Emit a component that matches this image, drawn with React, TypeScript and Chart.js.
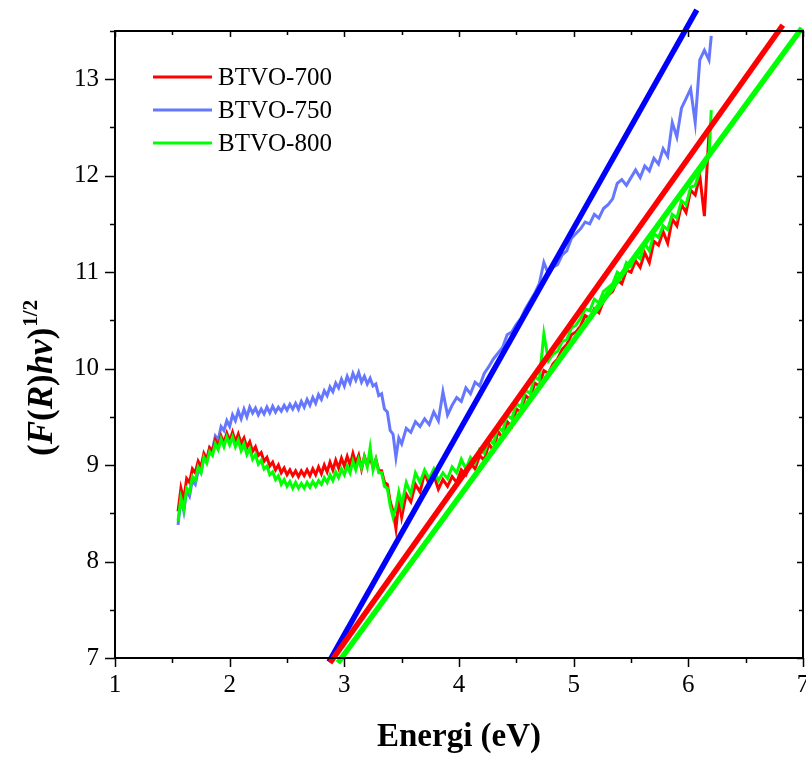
import React, { useEffect, useRef } from 'react';
import { Chart, registerables } from 'chart.js';
Chart.register(...registerables);

const FONT = "'Liberation Serif', 'Times New Roman', serif";

// Photon energy (eV)
const energy = [
  1.55, 1.575, 1.6, 1.625, 1.65, 1.675, 1.7, 1.725, 1.75, 1.775,
  1.8, 1.825, 1.85, 1.875, 1.9, 1.925, 1.95, 1.975, 2.0, 2.025,
  2.05, 2.075, 2.1, 2.125, 2.15, 2.175, 2.2, 2.225, 2.25, 2.275,
  2.3, 2.325, 2.35, 2.375, 2.4, 2.425, 2.45, 2.475, 2.5, 2.525,
  2.55, 2.575, 2.6, 2.625, 2.65, 2.675, 2.7, 2.725, 2.75, 2.775,
  2.8, 2.825, 2.85, 2.875, 2.9, 2.925, 2.95, 2.975, 3.0, 3.025,
  3.05, 3.075, 3.1, 3.125, 3.15, 3.175, 3.2, 3.225, 3.25, 3.275,
  3.3, 3.325, 3.35, 3.375, 3.4, 3.425, 3.45, 3.475, 3.5,
  3.54, 3.58, 3.62, 3.66, 3.7, 3.74, 3.78, 3.82, 3.86, 3.9,
  3.94, 3.98, 4.02, 4.06, 4.1, 4.14, 4.18, 4.22, 4.26, 4.3,
  4.34, 4.38, 4.42, 4.46, 4.5, 4.54, 4.58, 4.62, 4.66, 4.7,
  4.74, 4.78, 4.82, 4.86, 4.9, 4.94, 4.98, 5.02, 5.06, 5.1,
  5.14, 5.18, 5.22, 5.26, 5.3, 5.34, 5.38, 5.42, 5.46, 5.5,
  5.54, 5.58, 5.62, 5.66, 5.7, 5.74, 5.78, 5.82, 5.86, 5.9,
  5.94, 5.98, 6.02, 6.06, 6.1, 6.14, 6.18, 6.2,
];

const btvo700 = [
  8.52, 8.76, 8.64, 8.86, 8.82, 8.96, 8.92, 9.04, 8.98, 9.12,
  9.06, 9.18, 9.14, 9.26, 9.20, 9.30, 9.23, 9.33, 9.25, 9.34,
  9.24, 9.32, 9.22, 9.28, 9.18, 9.24, 9.14, 9.19, 9.10, 9.13,
  9.04, 9.08, 8.99, 9.03, 8.95, 9.00, 8.92, 8.97, 8.90, 8.95,
  8.89, 8.94, 8.88, 8.94, 8.89, 8.95, 8.89, 8.96, 8.90, 8.98,
  8.91, 9.00, 8.93, 9.03, 8.95, 9.05, 8.97, 9.07, 8.99, 9.09,
  9.00, 9.12, 9.02, 9.10, 8.96, 9.09, 9.00, 9.08, 8.98, 9.06,
  8.94, 8.94, 8.82, 8.80, 8.62, 8.52, 8.34, 8.64, 8.46,
  8.70, 8.62, 8.80, 8.72, 8.92, 8.80, 8.90, 8.75, 8.85, 8.78,
  8.88, 8.82, 8.95, 8.90, 9.02, 8.96, 9.10, 9.05, 9.22, 9.15,
  9.35, 9.28, 9.45, 9.40, 9.58, 9.55, 9.72, 9.68, 9.85, 9.82,
  9.98, 9.95, 10.05, 10.10, 10.20, 10.25, 10.35, 10.38, 10.44, 10.55,
  10.52, 10.62, 10.58, 10.70, 10.76, 10.80, 10.92, 10.88, 11.02, 11.00,
  11.12, 11.05, 11.20, 11.10, 11.32, 11.28, 11.42, 11.30, 11.55, 11.48,
  11.70, 11.62, 11.85, 11.80, 12.00, 11.58, 12.45, 12.55,
];

const btvo750 = [
  8.38, 8.66, 8.52, 8.74, 8.68, 8.84, 8.80, 8.94, 8.92, 9.08,
  9.04, 9.18, 9.16, 9.30, 9.26, 9.40, 9.36, 9.46, 9.40, 9.52,
  9.46, 9.56, 9.48, 9.58, 9.50, 9.60, 9.54, 9.59, 9.52, 9.58,
  9.53, 9.60, 9.54, 9.61, 9.55, 9.60, 9.56, 9.62, 9.57, 9.63,
  9.58, 9.64, 9.58, 9.66, 9.60, 9.68, 9.62, 9.70, 9.64, 9.73,
  9.68, 9.77, 9.72, 9.81, 9.76, 9.85, 9.80, 9.89, 9.82, 9.92,
  9.85, 9.95, 9.88, 9.96, 9.86, 9.92, 9.84, 9.90, 9.82, 9.84,
  9.72, 9.74, 9.58, 9.55, 9.36, 9.32, 9.08, 9.28, 9.22,
  9.38, 9.34, 9.45, 9.40, 9.48, 9.42, 9.55, 9.46, 9.76, 9.52,
  9.62, 9.70, 9.66, 9.80, 9.74, 9.86, 9.82, 9.95, 10.02, 10.10,
  10.16, 10.22, 10.35, 10.38, 10.46, 10.52, 10.62, 10.70, 10.78, 10.88,
  11.10, 10.98, 11.05, 11.08, 11.18, 11.22, 11.35, 11.40, 11.45, 11.52,
  11.50, 11.60, 11.56, 11.66, 11.70, 11.76, 11.92, 11.96, 11.90, 11.98,
  12.06, 11.98, 12.10, 12.05, 12.18, 12.12, 12.28, 12.20, 12.55, 12.40,
  12.70, 12.80, 12.90, 12.55, 13.20, 13.30, 13.20, 13.45,
];

const btvo800 = [
  8.42, 8.66, 8.54, 8.76, 8.72, 8.88, 8.84, 8.98, 8.92, 9.08,
  9.02, 9.14, 9.10, 9.22, 9.16, 9.27, 9.19, 9.29, 9.21, 9.29,
  9.19, 9.26, 9.15, 9.22, 9.11, 9.17, 9.06, 9.11, 9.01, 9.05,
  8.96, 8.99, 8.90, 8.93, 8.85, 8.89, 8.80, 8.85, 8.78, 8.83,
  8.76, 8.82, 8.76, 8.81, 8.76, 8.82, 8.77, 8.83, 8.78, 8.84,
  8.80, 8.87, 8.82, 8.90, 8.84, 8.93, 8.87, 8.96, 8.90, 8.99,
  8.92, 9.04, 8.95, 9.06, 8.97, 9.08, 8.98, 9.18, 8.95, 9.06,
  8.92, 8.92, 8.78, 8.76, 8.58, 8.46, 8.56, 8.72, 8.58,
  8.82, 8.70, 8.92, 8.82, 8.95, 8.86, 8.96, 8.84, 8.92, 8.86,
  8.98, 8.92, 9.06, 8.96, 9.08, 9.02, 9.16, 9.12, 9.28, 9.22,
  9.40, 9.35, 9.52, 9.48, 9.64, 9.60, 9.78, 9.74, 9.92, 9.88,
  10.36, 10.08, 10.15, 10.18, 10.28, 10.30, 10.42, 10.45, 10.52, 10.62,
  10.60, 10.72, 10.68, 10.80, 10.84, 10.88, 11.00, 10.96, 11.10, 11.06,
  11.18, 11.14, 11.30, 11.22, 11.40, 11.36, 11.48, 11.44, 11.60, 11.56,
  11.74, 11.70, 11.88, 11.90, 12.04, 12.10, 12.20, 12.68,
];

// Linear fit (Tauc) lines: endpoints
const fit700X = [2.875, 6.824];
const fit700Y = [6.95, 13.56];
const fit750X = [2.866, 6.074];
const fit750Y = [6.96, 13.72];
const fit800X = [2.944, 6.99];
const fit800Y = [6.95, 13.53];

const seriesNames = ['BTVO-700', 'BTVO-750', 'BTVO-800'];
const seriesColors = ['#ff0000', '#6677ff', '#00ff00'];
const fitColors = ['#ff0000', '#0000ff', '#00ff00'];

const xMajorTicks = [1, 2, 3, 4, 5, 6, 7];
const xMinorTicks = [1.5, 2.5, 3.5, 4.5, 5.5, 6.5];
const yMajorTicks = [7, 8, 9, 10, 11, 12, 13];
const yMinorTicks = [7.5, 8.5, 9.5, 10.5, 11.5, 12.5, 13.5];

const xTitle = 'Energi (eV)';
const yTitleParts = [
  { t: '(', it: false },
  { t: 'F', it: true },
  { t: '(', it: false },
  { t: 'R', it: true },
  { t: ')', it: false },
  { t: 'hv', it: true },
  { t: ')', it: false },
];
const yTitleSup = '1/2';

const toPts = (xs: number[], ys: number[]) => xs.map((x, i) => ({ x, y: ys[i] }));

const decorPlugin = {
  id: 'decor',
  afterDatasetsDraw(chart: any) {
    const { ctx, chartArea, scales } = chart;
    const { left, right, top, bottom } = chartArea;
    const xs = scales.x;
    const ys = scales.y;
    ctx.save();
    ctx.strokeStyle = '#000';
    ctx.lineWidth = 2;
    ctx.strokeRect(left, top, right - left, bottom - top);
    ctx.lineWidth = 1.5;
    ctx.beginPath();
    xMajorTicks.forEach((v) => {
      const p = Math.round(xs.getPixelForValue(v)) + 0.5;
      ctx.moveTo(p, bottom); ctx.lineTo(p, bottom + 9);
      ctx.moveTo(p, top); ctx.lineTo(p, top + 6);
    });
    xMinorTicks.forEach((v) => {
      const p = Math.round(xs.getPixelForValue(v)) + 0.5;
      ctx.moveTo(p, bottom); ctx.lineTo(p, bottom + 5);
      ctx.moveTo(p, top); ctx.lineTo(p, top + 4);
    });
    yMajorTicks.forEach((v) => {
      const p = Math.round(ys.getPixelForValue(v)) + 0.5;
      ctx.moveTo(left, p); ctx.lineTo(left - 10, p);
      ctx.moveTo(right, p); ctx.lineTo(right - 6, p);
    });
    yMinorTicks.forEach((v) => {
      const p = Math.round(ys.getPixelForValue(v)) + 0.5;
      ctx.moveTo(left, p); ctx.lineTo(left - 5, p);
      ctx.moveTo(right, p); ctx.lineTo(right - 4, p);
    });
    ctx.stroke();

    // legend
    const rows = [77, 110, 143];
    seriesNames.forEach((name, i) => {
      ctx.strokeStyle = seriesColors[i];
      ctx.lineWidth = 3;
      ctx.beginPath();
      ctx.moveTo(153, rows[i]);
      ctx.lineTo(212, rows[i]);
      ctx.stroke();
      ctx.fillStyle = '#000';
      ctx.font = `25px ${FONT}`;
      ctx.textAlign = 'left';
      ctx.textBaseline = 'middle';
      ctx.fillText(name, 218, rows[i] + 1);
    });

    // x title
    ctx.fillStyle = '#000';
    ctx.font = `bold 33px ${FONT}`;
    ctx.textAlign = 'center';
    ctx.textBaseline = 'alphabetic';
    ctx.fillText(xTitle, (left + right) / 2, 746);

    // y title (rotated)
    ctx.save();
    ctx.translate(52, 456);
    ctx.rotate(-Math.PI / 2);
    ctx.textAlign = 'left';
    let cx = 0;
    yTitleParts.forEach((p) => {
      ctx.font = `${p.it ? 'italic ' : ''}bold 35px ${FONT}`;
      ctx.fillText(p.t, cx, 0);
      cx += ctx.measureText(p.t).width;
    });
    ctx.font = `bold 21px ${FONT}`;
    ctx.fillText(yTitleSup, cx + 1, -15);
    ctx.restore();

    ctx.restore();
  },
};

export default function App() {
  const ref = useRef<HTMLCanvasElement | null>(null);
  useEffect(() => {
    if (!ref.current) return;
    const chart = new Chart(ref.current, {
      type: 'line',
      data: {
        datasets: [
          { label: 'fit-800', data: toPts(fit800X, fit800Y), borderColor: fitColors[2], borderWidth: 5.5, order: 0, clip: false as any, borderCapStyle: 'butt' },
          { label: 'fit-700', data: toPts(fit700X, fit700Y), borderColor: fitColors[0], borderWidth: 5.5, order: 1, clip: false as any, borderCapStyle: 'butt' },
          { label: 'fit-750', data: toPts(fit750X, fit750Y), borderColor: fitColors[1], borderWidth: 5.5, order: 2, clip: false as any, borderCapStyle: 'butt' },
          { label: seriesNames[2], data: toPts(energy, btvo800), borderColor: seriesColors[2], borderWidth: 3, order: 3 },
          { label: seriesNames[0], data: toPts(energy, btvo700), borderColor: seriesColors[0], borderWidth: 3, order: 4 },
          { label: seriesNames[1], data: toPts(energy, btvo750), borderColor: seriesColors[1], borderWidth: 3, order: 5 },
        ] as any,
      },
      options: {
        responsive: false,
        animation: false,
        layout: { padding: { left: 0, right: 3, top: 31, bottom: 0 } },
        elements: { point: { radius: 0 }, line: { tension: 0, borderJoinStyle: 'miter' } },
        plugins: { legend: { display: false }, tooltip: { enabled: false } },
        scales: {
          x: {
            type: 'linear',
            min: 1,
            max: 7,
            grid: { display: false, drawTicks: false },
            border: { display: false },
            ticks: { font: { family: FONT, size: 25 }, color: '#000', padding: 12 },
            afterBuildTicks: (s: any) => { s.ticks = xMajorTicks.map((v) => ({ value: v })); },
            afterFit: (s: any) => { s.height = 100; s.paddingLeft = 0; s.paddingRight = 0; },
          },
          y: {
            type: 'linear',
            min: 7,
            max: 13.5,
            grid: { display: false, drawTicks: false },
            border: { display: false },
            ticks: { font: { family: FONT, size: 25 }, color: '#000', padding: 16 },
            afterBuildTicks: (s: any) => { s.ticks = yMajorTicks.map((v) => ({ value: v })); },
            afterFit: (s: any) => { s.width = 115; s.paddingTop = 0; s.paddingBottom = 0; },
          },
        },
      } as any,
      plugins: [decorPlugin],
    });
    return () => chart.destroy();
  }, []);
  return (
    <div style={{ position: 'absolute', left: 0, top: 0, width: 806, height: 758, background: '#fff' }}>
      <canvas ref={ref} width={806} height={758} />
    </div>
  );
}
